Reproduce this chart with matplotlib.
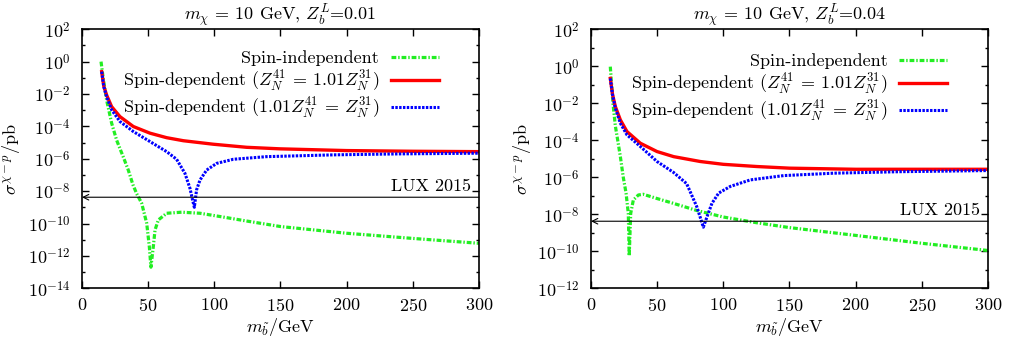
import math
import matplotlib
matplotlib.use("Agg")
import matplotlib.pyplot as plt
from matplotlib.ticker import FixedLocator, NullFormatter, FuncFormatter

plt.rcParams['font.family'] = ['cmr10']
plt.rcParams['mathtext.fontset'] = 'cm'
plt.rcParams['axes.formatter.use_mathtext'] = True
plt.rcParams['axes.unicode_minus'] = False

# ---------------- data: panel 1 (Z_b^L = 0.01) ----------------
p1_si_x = [14.4, 16.0, 18.6, 22.4, 26.2, 31.2, 35.0, 38.5, 41.3, 45.1, 48.9, 50.9, 52.1,
           53.9, 55.2, 57.7, 64.0, 75.3, 89.2, 104.3, 125.0, 150.0, 200.0, 250.0, 300.0]
p1_si_y = [1.0e0, 1.0e-1, 4.3e-3, 1.6e-4, 1.4e-5, 1.3e-6, 2.0e-7, 2.5e-8, 7.0e-9, 1.8e-9,
           1.05e-10, 3.7e-12, 2.0e-13, 3.7e-12, 4.0e-11, 1.66e-10, 4.3e-10, 5.0e-10,
           4.3e-10, 2.7e-10, 1.4e-10, 6.5e-11, 2.5e-11, 1.2e-11, 6.0e-12]

p1_sd1_x = [14.9, 16.5, 18.6, 22.4, 28.7, 38.8, 51.4, 64.0, 76.6, 99.2, 124.4, 149.6,
            200.0, 250.4, 300.0]
p1_sd1_y = [2.4e-1, 3.0e-2, 8.7e-3, 1.66e-3, 4.0e-4, 9.8e-5, 3.8e-5, 2.0e-5, 1.3e-5,
            7.9e-6, 5.1e-6, 4.1e-6, 3.2e-6, 2.9e-6, 2.75e-6]

p1_sd2_x = [14.9, 16.5, 18.6, 22.4, 28.7, 38.8, 51.4, 64.0, 71.5, 77.8, 81.6, 83.5, 84.9,
            86.6, 89.2, 94.2, 101.8, 114.4, 139.5, 190.0, 240.0, 300.0]
p1_sd2_y = [2.4e-1, 2.8e-2, 6.9e-3, 1.05e-3, 2.0e-4, 4.8e-5, 1.15e-5, 2.75e-6, 9.3e-7,
            1.26e-7, 1.5e-8, 3.0e-9, 1.0e-9, 1.2e-8, 4.9e-8, 2.0e-7, 5.2e-7, 9.3e-7,
            1.35e-6, 1.74e-6, 2.0e-6, 2.2e-6]

# ---------------- data: panel 2 (Z_b^L = 0.04) ----------------
p2_si_x = [14.6, 16.6, 18.4, 20.2, 22.2, 24.4, 26.5, 28.2, 28.9, 30.0, 32.0, 35.8, 39.5,
           49.6, 62.2, 79.9, 100.0, 125.0, 150.0, 200.0, 250.0, 300.0]
p2_si_y = [9.5e-1, 1.0e-2, 6.0e-4, 1.0e-4, 1.3e-5, 1.0e-6, 1.4e-7, 1.1e-8, 5.6e-11,
           1.1e-8, 5.9e-8, 1.1e-7, 1.2e-7, 7.2e-8, 3.9e-8, 1.6e-8, 7.1e-9, 3.5e-9,
           1.9e-9, 7.2e-10, 2.7e-10, 1.1e-10]

p2_sd1_x = [14.6, 16.3, 18.4, 22.2, 27.2, 37.3, 49.9, 62.5, 82.6, 100.0, 125.4, 150.0,
            200.0, 250.0, 300.0]
p2_sd1_y = [2.2e-1, 3.0e-2, 6.6e-3, 1.26e-3, 2.95e-4, 6.9e-5, 2.45e-5, 1.3e-5, 7.1e-6,
            5.0e-6, 3.8e-6, 3.1e-6, 2.7e-6, 2.7e-6, 2.7e-6]

p2_sd2_x = [14.6, 16.3, 18.4, 22.2, 27.2, 37.3, 49.9, 62.5, 72.3, 79.9, 82.4, 84.9, 87.7,
            91.4, 96.5, 105.3, 120.4, 145.6, 183.4, 233.8, 300.0]
p2_sd2_y = [2.2e-1, 2.8e-2, 5.4e-3, 8.3e-4, 1.95e-4, 4.6e-5, 7.1e-6, 1.8e-6, 4.5e-7,
            2.6e-8, 7.4e-9, 2.0e-9, 7.4e-9, 3.9e-8, 1.4e-7, 3.2e-7, 7.2e-7, 1.23e-6,
            1.66e-6, 2.0e-6, 2.3e-6]

lux_limit = 4.2e-9
titles = [r'$m_\chi$ = 10 GeV, $Z_b^L$=0.01', r'$m_\chi$ = 10 GeV, $Z_b^L$=0.04']
ylims = [(1e-14, 1e2), (1e-12, 1e2)]
labels = ['Spin-independent',
          r'Spin-dependent ($Z_N^{41}\,=\,1.01Z_N^{31}$)',
          r'Spin-dependent ($1.01Z_N^{41}\,=\,Z_N^{31}$)']

panels = [
    (p1_si_x, p1_si_y, p1_sd1_x, p1_sd1_y, p1_sd2_x, p1_sd2_y),
    (p2_si_x, p2_si_y, p2_sd1_x, p2_sd1_y, p2_sd2_x, p2_sd2_y),
]

FS = 13
fig = plt.figure(figsize=(10.17, 3.44), dpi=100)
positions = [[0.0806, 0.162, 0.3904, 0.753], [0.5811, 0.162, 0.3904, 0.753]]
legend_anchor = [(0.899, 0.918), (0.897, 0.907)]
ylabel_x = [-0.150, -0.146]

GREEN = '#22ee22'
for i, (sx, sy, ax1, ay1, ax2, ay2) in enumerate(panels):
    ax = fig.add_axes(positions[i])
    ax.plot(sx, sy, color=GREEN, lw=2.3, dashes=(1.5, 0.6, 0.45, 0.6), label=labels[0])
    ax.plot(ax1, ay1, color='#ff0000', lw=2.4, label=labels[1])
    ax.plot(ax2, ay2, color='#0000ff', lw=2.2, dashes=(0.8, 0.45), label=labels[2])
    ax.set_yscale('log')
    ax.set_xlim(0, 300)
    ax.set_ylim(*ylims[i])
    lo, hi = ylims[i]
    e0, e1 = int(round(math.log10(lo))), int(round(math.log10(hi)))
    ax.yaxis.set_major_locator(FixedLocator([10.0**e for e in range(e0, e1 + 1, 2)]))
    ax.yaxis.set_minor_locator(FixedLocator([10.0**e for e in range(e0 + 1, e1, 2)]))
    ax.yaxis.set_minor_formatter(NullFormatter())
    ax.yaxis.set_major_formatter(FuncFormatter(
        lambda v, p: r'$10^{%d}$' % int(round(math.log10(v)))))
    ax.set_xticks([0, 50, 100, 150, 200, 250, 300])
    ax.tick_params(which='both', direction='in', top=True, right=True, labelsize=FS)
    ax.tick_params(axis='y', pad=8)
    ax.tick_params(axis='x', pad=6.5)
    ax.tick_params(which='major', length=5, width=1)
    ax.tick_params(which='minor', length=2.5, width=1)
    for s in ax.spines.values():
        s.set_linewidth(1.2)
    ax.annotate('', xy=(0, lux_limit), xytext=(300, lux_limit),
                arrowprops=dict(arrowstyle='->', lw=0.8, color='black',
                                shrinkA=0, shrinkB=0, mutation_scale=10))
    ax.annotate('LUX 2015', xy=(294, lux_limit), xytext=(0, 2), textcoords='offset points',
                ha='right', va='bottom', fontsize=FS)
    ax.set_title(titles[i], fontsize=FS, pad=4)
    ax.set_xlabel(r'$m_{\tilde{b}}$/GeV', fontsize=FS, labelpad=1)
    ax.set_ylabel(r'$\sigma^{\chi-p}$/pb', fontsize=FS)
    ax.yaxis.set_label_coords(ylabel_x[i], 0.5)
    ax.legend(loc='upper right', bbox_to_anchor=legend_anchor[i], frameon=False,
              markerfirst=False, fontsize=FS, handlelength=2.65, handletextpad=0.66,
              labelspacing=0.12, borderpad=0, borderaxespad=0)

fig.savefig('out.png', dpi=100)
